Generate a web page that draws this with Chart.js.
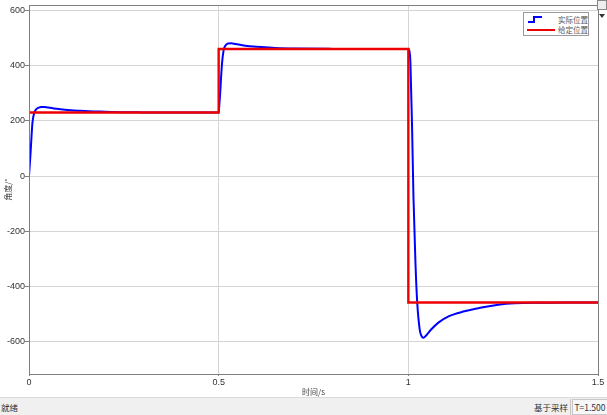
<!DOCTYPE html>
<html>
<head>
<meta charset="utf-8">
<script src="https://cdn.jsdelivr.net/npm/chart.js@4/dist/chart.umd.min.js"></script>
<style>
  html, body { margin: 0; padding: 0; background: #fff; }
  body { width: 607px; height: 415px; position: relative; overflow: hidden; font-family: "Noto Sans CJK SC", sans-serif; }
  #wrap { position: absolute; left: 0; top: 0; width: 607px; height: 397px; }
  #legend { position: absolute; left: 523px; top: 12px; width: 64px; height: 22px; border: 1px solid #9a9a9a; background: #fff; font-size: 7.5px; color: #555; white-space: nowrap; }
  #legend div { position: absolute; left: 0; height: 11px; line-height: 11px; width: 64px; }
  #legend span { position: absolute; left: 34px; }
  #legend svg { position: absolute; left: 2px; top: 0; }
  #status { position: absolute; left: 0; top: 397px; width: 607px; height: 18px; background: #f0f0f0; border-top: 1px solid #dadada; font-size: 8.5px; color: #333; line-height: 18px; white-space: nowrap; }
  #status .l { position: absolute; left: 1px; }
  #status .m { position: absolute; left: 534px; width: 36px; border-right: 1px solid #c8c8c8; height: 16px; top: 1px; line-height: 16px; }
  #status .r { position: absolute; left: 572px; width: 34px; border: 1px solid #c8c8c8; height: 14px; top: 1px; line-height: 14px; text-align: center; background: #f7f7f7; }
  #btn { position: absolute; left: 597px; top: 0; width: 8px; height: 8px; border: 1px solid #888; background: #eee; }
</style>
</head>
<body>
<div id="wrap"><canvas id="scope"></canvas></div>
<div id="legend">
  <div style="top:1px"><svg width="30" height="11"><polyline points="2,8 8,8 8,3 16,3" fill="none" stroke="#0000ff" stroke-width="2"/></svg><span>实际位置</span></div>
  <div style="top:11px"><svg width="30" height="11"><line x1="1" y1="6" x2="29" y2="6" stroke="#ee0000" stroke-width="2"/></svg><span>给定位置</span></div>
</div>
<div id="btn"><svg width="8" height="8"><polygon points="1,2 7,2 4,6" fill="#333"/></svg></div>
<div id="status"><span class="l">就绪</span><span class="m">基于采样</span><span class="r">T=1.500</span></div>
<script>
// 实际位置 (blue)
var actual_t = [0, 0.002, 0.0037, 0.0063, 0.009, 0.014, 0.02, 0.026, 0.032, 0.04, 0.05, 0.065, 0.083, 0.11, 0.136, 0.17, 0.2, 0.25, 0.3, 0.4, 0.5,
  0.502, 0.504, 0.506, 0.509, 0.513, 0.518, 0.525, 0.533, 0.545, 0.57, 0.6, 0.65, 0.7, 0.8, 0.9, 1.0,
  1.003, 1.0055, 1.01, 1.0135, 1.0188, 1.0233, 1.03, 1.035, 1.039, 1.045, 1.06, 1.08, 1.106, 1.148, 1.193, 1.237, 1.28, 1.35, 1.42, 1.5];
var actual_y = [0, 40, 75, 135, 192, 230, 243, 248, 250, 250, 248, 245, 242, 238, 236, 234, 233, 231, 230.5, 230, 230,
  262, 300, 350, 410, 455, 473, 480, 481, 478, 472, 468, 464, 462, 460.5, 460, 460,
  452, 410, 166, -75, -315, -455, -556, -580, -586, -580, -556, -530, -508, -490, -476, -466, -461, -459, -458, -458];
// 给定位置 (red)
var given_t = [0, 0.5, 0.5, 1.0, 1.0, 1.5];
var given_y = [230, 230, 460, 460, -458, -458];

var xTicks = [0, 0.5, 1, 1.5];
var yTicks = [-600, -400, -200, 0, 200, 400, 600];

function pts(t, y) {
  return t.map(function (v, i) { return { x: v, y: y[i] }; });
}

var frame = {
  id: 'frame',
  afterDraw: function (chart) {
    var a = chart.chartArea, ctx = chart.ctx;
    ctx.save();
    ctx.strokeStyle = '#808080';
    ctx.lineWidth = 1;
    ctx.strokeRect(Math.round(a.left) + 0.5, Math.round(a.top) + 0.5, Math.round(a.right - a.left), Math.round(a.bottom - a.top));
    ctx.restore();
  }
};

var tickFont = { family: 'Liberation Sans, Arial, sans-serif', size: 9 };

new Chart(document.getElementById('scope'), {
  type: 'line',
  data: {
    datasets: [{
      label: '给定位置',
      data: pts(given_t, given_y),
      borderColor: '#ee0000',
      borderWidth: 2.4,
      pointRadius: 0,
      tension: 0,
      order: 0
    }, {
      label: '实际位置',
      data: pts(actual_t, actual_y),
      borderColor: '#0000ff',
      borderWidth: 2,
      pointRadius: 0,
      cubicInterpolationMode: 'monotone',
      order: 1
    }]
  },
  options: {
    responsive: true,
    maintainAspectRatio: false,
    animation: false,
    devicePixelRatio: 1,
    layout: { padding: { top: 5, right: 9, left: 0, bottom: 0 } },
    plugins: { legend: { display: false }, tooltip: { enabled: false } },
    scales: {
      x: {
        type: 'linear',
        min: 0,
        max: 1.5,
        afterBuildTicks: function (s) { s.ticks = xTicks.map(function (v) { return { value: v }; }); },
        afterFit: function (s) { s.height = 23; },
        ticks: { font: tickFont, color: '#333', padding: 1, maxRotation: 0, autoSkip: false,
          callback: function (v) { return String(v); } },
        grid: { color: '#d4d4d4', tickColor: '#808080', tickLength: 2 },
        border: { color: '#808080' },
        title: { display: true, text: '时间/s', font: { family: 'Noto Sans CJK SC', size: 8 }, color: '#444', padding: 0 }
      },
      y: {
        min: -717,
        max: 618,
        afterBuildTicks: function (s) { s.ticks = yTicks.map(function (v) { return { value: v }; }); },
        afterFit: function (s) { s.width = 29; },
        ticks: { font: tickFont, color: '#333', padding: 0, autoSkip: false,
          callback: function (v) { return String(v); } },
        grid: { color: '#d4d4d4', tickColor: '#808080', tickLength: 4 },
        border: { color: '#808080' },
        title: { display: true, text: '角度/°', font: { family: 'Noto Sans CJK SC', size: 8 }, color: '#444', padding: { top: 3, bottom: 0 } }
      }
    }
  },
  plugins: [frame]
});
</script>
</body>
</html>
